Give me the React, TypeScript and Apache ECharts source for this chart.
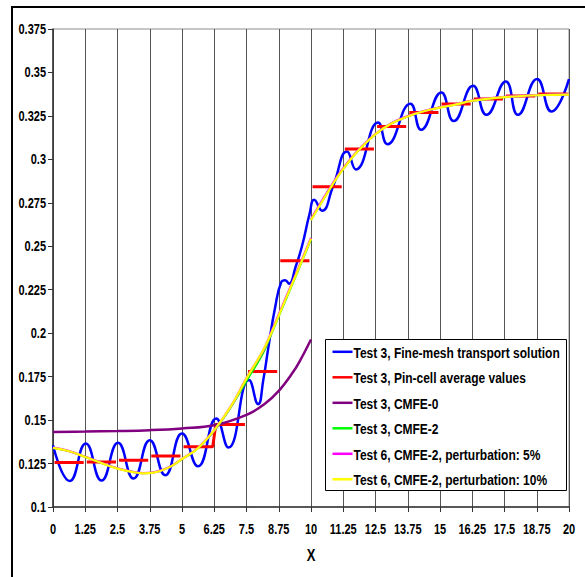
import React, { useEffect, useRef } from "react";
import * as echarts from "echarts";

// ---- data ----
const xTicks = [0, 1.25, 2.5, 3.75, 5, 6.25, 7.5, 8.75, 10, 11.25, 12.5, 13.75, 15, 16.25, 17.5, 18.75, 20];
const yTicks = [0.1, 0.125, 0.15, 0.175, 0.2, 0.225, 0.25, 0.275, 0.3, 0.325, 0.35, 0.375];
const xAxisTitle = "X";

const seriesNames = [
  "Test 3, Fine-mesh transport solution",
  "Test 3, Pin-cell average values",
  "Test 3, CMFE-0",
  "Test 3, CMFE-2",
  "Test 6, CMFE-2, perturbation: 5%",
  "Test 6, CMFE-2, perturbation: 10%",
];
const seriesColors = ["#0000ff", "#ff0000", "#800080", "#00ff00", "#ff00ff", "#ffff00"];

const fineMesh: [number, number][] = [
  [0, 0.1355], [0.65, 0.115], [1.27, 0.1365], [1.88, 0.1152], [2.52, 0.1369],
  [3.12, 0.1164], [3.75, 0.1384], [4.35, 0.1183], [5.0, 0.1423], [5.62, 0.1234],
  [6.33, 0.1509], [6.8, 0.1342], [7.6, 0.173], [7.95, 0.1592], [8.15, 0.173],
  [8.35, 0.192], [8.6, 0.214], [8.85, 0.2295], [9.0, 0.2305], [9.15, 0.2285],
  [9.4, 0.238], [9.65, 0.25], [9.95, 0.269], [10.12, 0.2767], [10.43, 0.2705],
  [10.85, 0.2843], [11.4, 0.3045], [11.74, 0.2942], [12.6, 0.3212], [12.96, 0.3087],
  [13.85, 0.332], [14.27, 0.317], [15.05, 0.3385], [15.53, 0.322], [16.28, 0.3423],
  [16.8, 0.3256], [17.55, 0.3448], [18.02, 0.3256], [18.76, 0.3462], [19.32, 0.3275],
  [20, 0.3462],
];

const pinCellWidth = 1.25;
const pinCellAverages = [
  0.1256, 0.1259, 0.1269, 0.1294, 0.1346, 0.1475, 0.178, 0.2417,
  0.2843, 0.3059, 0.3189, 0.327, 0.3318, 0.3347, 0.3364, 0.3376,
];
const pinCellJoined = [4]; // cell whose segment is joined to the next one

const cmfe0: [number, number][] = [
  [0, 0.1432], [1.25, 0.1434], [2.5, 0.1437], [3.75, 0.1442], [5, 0.1452],
  [6.25, 0.147], [7.5, 0.153], [8.2, 0.1592], [8.75, 0.1668], [9.3, 0.1775],
  [9.56, 0.1838], [10, 0.1964],
];

const cmfe2Left: [number, number][] = [
  [0, 0.134], [0.6, 0.1322], [1.25, 0.1288], [1.9, 0.1252], [2.5, 0.1221],
  [3.1, 0.1201], [3.5, 0.1194], [3.9, 0.1198], [4.5, 0.1228], [5.0, 0.1275],
  [5.6, 0.1335], [6.25, 0.1438], [6.9, 0.1575], [7.5, 0.1725], [8.14, 0.1885],
  [8.46, 0.1995], [9.0, 0.2185], [9.5, 0.236], [10, 0.254],
];
const cmfe2Right: [number, number][] = [
  [10, 0.2651], [10.5, 0.2775], [10.92, 0.2875], [11.25, 0.2945], [11.8, 0.3045],
  [12.5, 0.3145], [13.1, 0.3205], [13.75, 0.3247], [14.4, 0.3278], [15, 0.3298],
  [15.6, 0.3315], [16.25, 0.3337], [17.5, 0.3358], [18.75, 0.3369], [20, 0.3373],
];
const pert5Left: [number, number][] = [
  [0, 0.1342], [0.6, 0.1323], [1.25, 0.1289], [1.9, 0.1253], [2.5, 0.1222],
  [3.1, 0.1202], [3.5, 0.1195], [3.9, 0.1199], [4.5, 0.1229], [5.0, 0.1277],
  [5.6, 0.1338], [6.25, 0.1442], [6.9, 0.158], [7.5, 0.1742], [8.14, 0.1898],
  [8.46, 0.2005], [9.0, 0.2195], [9.5, 0.237], [10, 0.2548],
];
const pert5Right: [number, number][] = [
  [10, 0.2655], [10.5, 0.278], [10.92, 0.2879], [11.25, 0.2949], [11.8, 0.3048],
  [12.5, 0.3147], [13.1, 0.3207], [13.75, 0.3249], [14.4, 0.3279], [15, 0.3299],
  [15.6, 0.3316], [16.25, 0.3338], [17.5, 0.3359], [18.75, 0.337], [20, 0.3374],
];
const pert10Left: [number, number][] = [
  [0, 0.134], [0.6, 0.1322], [1.25, 0.1288], [1.9, 0.1252], [2.5, 0.1221],
  [3.1, 0.1201], [3.5, 0.1194], [3.9, 0.1198], [4.5, 0.1228], [5.0, 0.1276],
  [5.6, 0.1336], [6.25, 0.1442], [6.9, 0.158], [7.5, 0.174], [8.14, 0.19],
  [8.46, 0.2], [9.0, 0.219], [9.5, 0.2365], [10, 0.2544],
];
const pert10Right: [number, number][] = [
  [10, 0.2651], [10.5, 0.2775], [10.92, 0.2875], [11.25, 0.2945], [11.8, 0.3045],
  [12.5, 0.3145], [13.1, 0.3205], [13.75, 0.3247], [14.4, 0.3278], [15, 0.3298],
  [15.6, 0.3315], [16.25, 0.3337], [17.5, 0.3358], [18.75, 0.3369], [20, 0.3373],
];

const FONT_FAMILY = "'Liberation Sans', Arial, sans-serif";
const STRETCH = 1.28; // the reference's lettering is tall and narrow

function buildPinCells(): (number[] | null)[] {
  const out: (number[] | null)[] = [];
  const inset = 0.06;
  pinCellAverages.forEach((v, i) => {
    const x0 = i * pinCellWidth;
    const x1 = (i + 1) * pinCellWidth;
    out.push([x0 + inset, v]);
    out.push([x1 - inset, v]);
    if (!pinCellJoined.includes(i)) out.push(null);
  });
  return out;
}

function joinPieces(a: [number, number][], b: [number, number][]) {
  return [...a, null, ...b];
}

const fmt = (v: number) => String(parseFloat(v.toFixed(3)));

function tallText(text: string, x: number, y: number, size: number, align: string, vAlign: string) {
  return {
    type: "text",
    x,
    y,
    scaleY: STRETCH,
    silent: true,
    z: 50,
    style: {
      text,
      x: 0,
      y: 0,
      fill: "#000",
      fontFamily: FONT_FAMILY,
      fontWeight: "bold",
      fontSize: size,
      align,
      verticalAlign: vAlign,
    },
  };
}

export default function App() {
  const ref = useRef<HTMLDivElement>(null);
  useEffect(() => {
    if (!ref.current) return;
    const chart = echarts.init(ref.current, undefined, { renderer: "svg" });
    const lineBase = (name: string, color: string, data: any, width: number, smooth: boolean | number) => ({
      name,
      type: "line",
      data,
      smooth,
      showSymbol: false,
      symbol: "none",
      connectNulls: false,
      lineStyle: { color, width },
      itemStyle: { color },
    });
    chart.setOption({
      animation: false,
      backgroundColor: "#ffffff",
      grid: {
        left: 53,
        top: 29,
        right: 16,
        bottom: 70,
        show: true,
        borderColor: "#8c8c8c",
        borderWidth: 1,
        backgroundColor: "transparent",
      },
      xAxis: {
        type: "value",
        min: xTicks[0],
        max: xTicks[xTicks.length - 1],
        interval: xTicks[1] - xTicks[0],
        axisLine: { show: true, lineStyle: { color: "#333", width: 1.5 } },
        axisTick: { show: true, length: 5, lineStyle: { color: "#333" } },
        axisLabel: { show: false },
        splitLine: { show: true, lineStyle: { color: "#555", width: 1 } },
      },
      yAxis: {
        type: "value",
        min: yTicks[0],
        max: yTicks[yTicks.length - 1],
        interval: yTicks[1] - yTicks[0],
        axisLine: { show: true, lineStyle: { color: "#333", width: 1.5 } },
        axisTick: { show: true, length: 5, lineStyle: { color: "#333" } },
        axisLabel: { show: false },
        splitLine: { show: false },
      },
      series: [
        lineBase(seriesNames[0], seriesColors[0], fineMesh, 2.5, 0.5),
        lineBase(seriesNames[1], seriesColors[1], buildPinCells(), 3, false),
        lineBase(seriesNames[2], seriesColors[2], cmfe0, 2.5, 0.4),
        lineBase(seriesNames[3], seriesColors[3], joinPieces(cmfe2Left, cmfe2Right), 2, 0.4),
        lineBase(seriesNames[4], seriesColors[4], joinPieces(pert5Left, pert5Right), 2.3, 0.4),
        lineBase(seriesNames[5], seriesColors[5], joinPieces(pert10Left, pert10Right), 2.2, 0.4),
      ],
    });

    // axis labels, title and legend drawn as tall text, placed through the axes' own scales
    const xPix = (v: number) => chart.convertToPixel({ xAxisIndex: 0 }, v) as number;
    const yPix = (v: number) => chart.convertToPixel({ yAxisIndex: 0 }, v) as number;
    const axisLeft = xPix(xTicks[0]);
    const axisBottom = yPix(yTicks[0]);
    const graphics: any[] = [];
    xTicks.forEach((t) => graphics.push(tallText(fmt(t), xPix(t), axisBottom + 23, 11, "center", "middle")));
    yTicks.forEach((t) => graphics.push(tallText(fmt(t), axisLeft - 7, yPix(t) + 0.5, 11, "right", "middle")));
    graphics.push(tallText(xAxisTitle, (xPix(xTicks[0]) + xPix(xTicks[xTicks.length - 1])) / 2, axisBottom + 48, 13, "center", "middle"));

    // legend box
    const lgX = 325.5, lgY = 339.5, lgW = 241, lgH = 151, rowH = 25.5, firstRow = 13.3;
    graphics.push({
      type: "rect",
      shape: { x: lgX, y: lgY, width: lgW, height: lgH },
      style: { fill: "#fff", stroke: "#000", lineWidth: 1 },
      silent: true,
      z: 40,
    });
    seriesNames.forEach((name, i) => {
      const cy = lgY + firstRow + i * rowH;
      graphics.push({
        type: "line",
        shape: { x1: lgX + 7, y1: cy - 1, x2: lgX + 27, y2: cy - 1 },
        style: { stroke: seriesColors[i], lineWidth: 2.5 },
        silent: true,
        z: 45,
      });
      graphics.push(tallText(name, lgX + 28, cy, 12, "left", "middle"));
    });

    // outer chart-area border
    graphics.push({
      type: "rect",
      shape: { x: 12, y: 7, width: 620, height: 620 },
      style: { fill: "none", stroke: "#000", lineWidth: 2 },
      silent: true,
      z: 100,
    });

    chart.setOption({ graphic: graphics });
    return () => chart.dispose();
  }, []);
  return (
    <div
      ref={ref}
      style={{ position: "fixed", left: 0, top: 0, width: 585, height: 577, background: "#fff" }}
    />
  );
}
